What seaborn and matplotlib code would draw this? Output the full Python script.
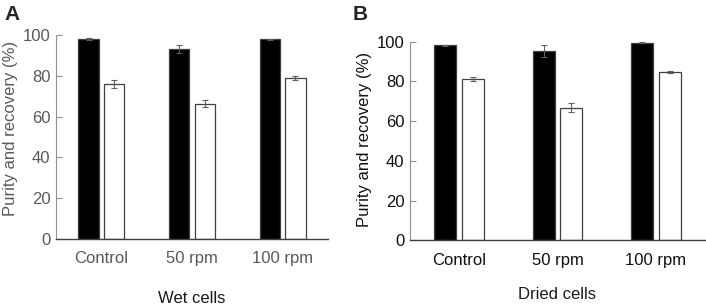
import numpy as np
import pandas as pd
import matplotlib
matplotlib.use('Agg')
import matplotlib.pyplot as plt
import seaborn as sns

conditions = ['Control', '50 rpm', '100 rpm']
measures = ['Purity', 'Recovery']

# panel A: wet cells
wet_purity = [97.9, 93.1, 97.9]
wet_purity_err = [0.5, 1.8, 0.3]
wet_recovery = [76.1, 66.4, 78.9]
wet_recovery_err = [1.9, 1.8, 1.2]

# panel B: dried cells
dried_purity = [98.1, 95.4, 99.4]
dried_purity_err = [0.4, 3.0, 0.3]
dried_recovery = [81.4, 66.8, 84.8]
dried_recovery_err = [1.0, 2.4, 0.4]

sns.set_style('white')
plt.rcParams['font.family'] = ['Liberation Sans', 'DejaVu Sans']

fig = plt.figure(figsize=(7.06, 3.05), dpi=100)
axA = fig.add_axes([0.0793, 0.2164, 0.3853, 0.6689])
axB = fig.add_axes([0.5807, 0.2115, 0.4178, 0.6518])


def draw_panel(ax, purity, p_err, recovery, r_err, xlabel, tick_color, ylabel_pos, xlabel_y):
    df = pd.DataFrame({
        'condition': conditions * 2,
        'measure': [measures[0]] * 3 + [measures[1]] * 3,
        'value': purity + recovery,
    })
    errs = p_err + r_err
    sns.barplot(data=df, x='condition', y='value', hue='measure', order=conditions,
                hue_order=measures, palette=['black', 'white'], width=0.56, gap=0.2,
                edgecolor='#404040', linewidth=0.9, errorbar=None, legend=False, ax=ax)
    bars = ax.patches[:6]
    xs = [b.get_x() + b.get_width() / 2 for b in bars]
    ys = [b.get_height() for b in bars]
    ax.errorbar(xs, ys, yerr=errs, fmt='none', ecolor='#606060', elinewidth=0.8,
                capsize=2.5, capthick=0.8)
    ax.set_xlim(-0.5, 2.5)
    ax.set_ylim(0, 100)
    ax.set_yticks(range(0, 101, 20))
    for s in ['top', 'right']:
        ax.spines[s].set_visible(False)
    ax.spines['left'].set_color('#909090')
    ax.spines['left'].set_linewidth(0.8)
    ax.spines['bottom'].set_color('#404040')
    ax.spines['bottom'].set_linewidth(1.0)
    ax.tick_params(axis='y', direction='in', length=4, width=0.8, color='#909090',
                   labelsize=12, labelcolor=tick_color, pad=4, left=True)
    ax.tick_params(axis='x', length=0, labelsize=12, labelcolor=tick_color, pad=9)
    ax.set_ylabel('Purity and recovery (%)', fontsize=12, color=tick_color)
    ax.yaxis.set_label_coords(*ylabel_pos)
    ax.set_xlabel(xlabel, fontsize=12, color='#1a1a1a')
    ax.xaxis.set_label_coords(0.5, xlabel_y)


draw_panel(axA, wet_purity, wet_purity_err, wet_recovery, wet_recovery_err,
           'Wet cells', '#595959', (-0.14, 0.54), -0.255)
draw_panel(axB, dried_purity, dried_purity_err, dried_recovery, dried_recovery_err,
           'Dried cells', '#111111', (-0.129, 0.51), -0.234)

fig.text(0.006, 0.935, 'A', fontsize=15, fontweight='bold')
fig.text(0.5, 0.935, 'B', fontsize=15, fontweight='bold')

fig.savefig('out.png', dpi=100)
